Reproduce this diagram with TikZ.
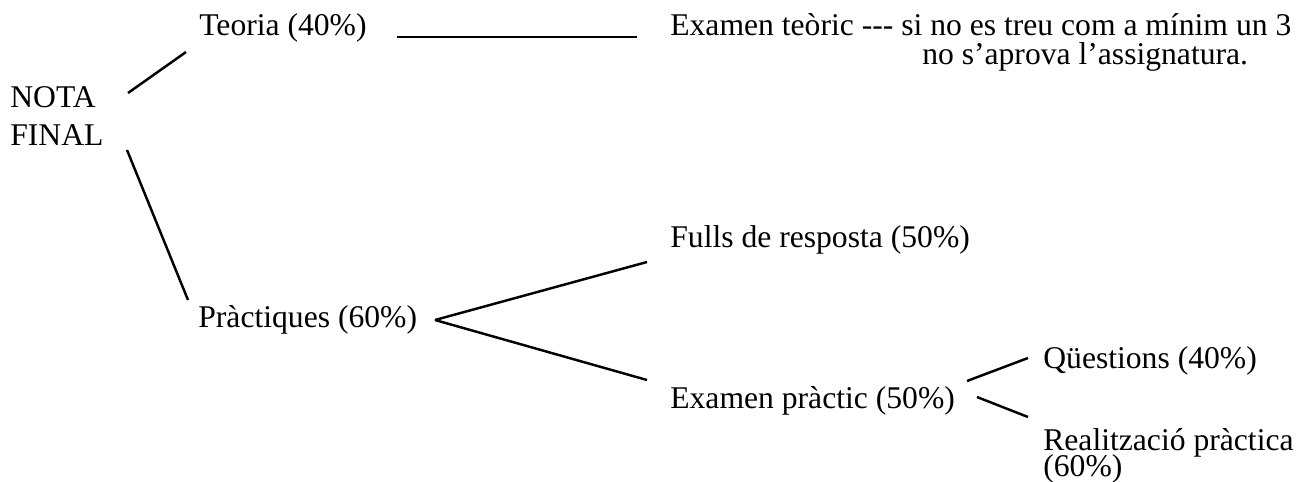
\documentclass[tikz,border=0pt]{standalone}
\usepackage{fontspec}
\setmainfont{Liberation Serif}
\usetikzlibrary{calc}

\begin{document}
\begin{tikzpicture}[x=0.02cm,y=-0.02cm,
  every node/.style={inner sep=0pt,anchor=base west,align=left,
    font=\fontsize{18}{21.6}\selectfont},
  branch/.style={line width=1.4pt}]
 \useasboundingbox (0,0) rectangle (1313,481);

 \node (nota) at (10,145) {NOTA\\FINAL};
 \node (teoria) at (199,35) {Teoria (40\%)};
 \node (teoric) at (670,64) {Examen teòric -{}-{}- si no es treu com a mínim un 3\\[-5.2pt]%
     \hspace*{5.04cm}no s'aprova l'assignatura.};
 \node (practiques) at (198,327) {Pràctiques (60\%)};
 \node (fulls) at (670,247) {Fulls de resposta (50\%)};
 \node (practic) at (670,408) {Examen pràctic (50\%)};
 \node (questions) at (1043,368) {Qüestions (40\%)};
 \node (realitzacio) at (1043,476) {Realització pràctica\\[-6.9pt](60\%)};

 \draw[branch] ($(nota.base west)+(118,-52)$) -- ($(teoria.base west)+(-13,17)$);
 \draw[branch] ($(nota.base west)+(117,5)$) -- ($(practiques.base west)+(-10,-27)$);
 \draw[branch] ($(teoria.base west)+(198,2)$) -- ($(teoric.base west)+(-33,-27)$);

 \draw[branch] ($(practiques.base west)+(237,-7)$) -- ($(fulls.base west)+(-23,15)$);
 \draw[branch] ($(practiques.base west)+(237,-7)$) -- ($(practic.base west)+(-23,-28)$);

 \draw[branch] ($(practic.base west)+(297,-27)$) -- ($(questions.base west)+(-15,-10)$);
 \draw[branch] ($(practic.base west)+(307,-11)$) -- ($(realitzacio.base west)+(-15,-59)$);
\end{tikzpicture}
\end{document}
